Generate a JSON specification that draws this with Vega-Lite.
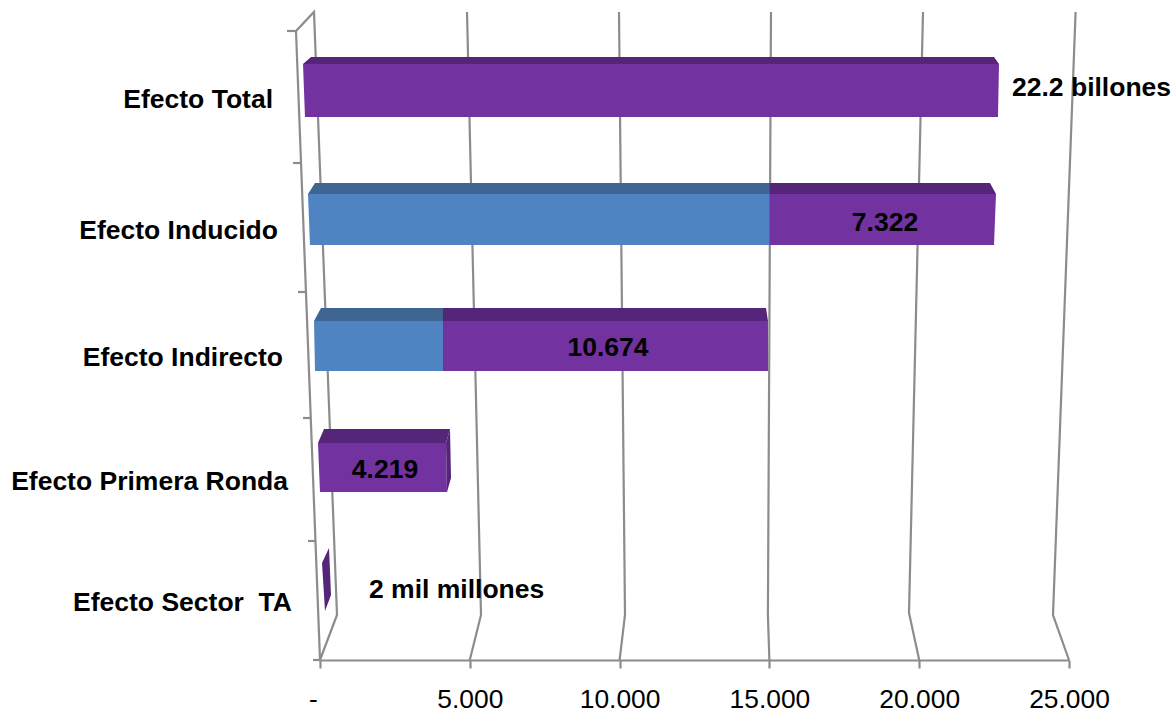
{"$schema":"https://vega.github.io/schema/vega-lite/v6.json","width":749,"height":648,"autosize":"none","padding":{"left":320,"top":12,"right":107,"bottom":53},"background":"white","config":{"view":{"stroke":null}},"datasets":{"trazos":[
{"id":"g0","n":1,"x":0,"y":0},{"id":"g0","n":2,"x":567,"y":45},{"id":"g0","n":3,"x":-200,"y":648},{"id":"g0","n":4,"x":-801,"y":629},
{"id":"g5","n":1,"x":5000,"y":0},{"id":"g5","n":2,"x":5374,"y":45},{"id":"g5","n":3,"x":4907,"y":648},
{"id":"g10","n":1,"x":10000,"y":0},{"id":"g10","n":2,"x":10180,"y":45},{"id":"g10","n":3,"x":9980,"y":648},
{"id":"g15","n":1,"x":15000,"y":0},{"id":"g15","n":2,"x":14950,"y":45},{"id":"g15","n":3,"x":15053,"y":648},
{"id":"g20","n":1,"x":20000,"y":0},{"id":"g20","n":2,"x":19660,"y":47},{"id":"g20","n":3,"x":20127,"y":648},
{"id":"g25","n":1,"x":25000,"y":0},{"id":"g25","n":2,"x":24466,"y":45},{"id":"g25","n":3,"x":25220,"y":648},
{"id":"eje","n":1,"x":0,"y":0},{"id":"eje","n":2,"x":-801,"y":629},
{"id":"t0","n":1,"x":-1101,"y":629},{"id":"t0","n":2,"x":-801,"y":629},
{"id":"t1","n":1,"x":-900,"y":497},{"id":"t1","n":2,"x":-634,"y":497},
{"id":"t2","n":1,"x":-734,"y":368},{"id":"t2","n":2,"x":-467,"y":368},
{"id":"t3","n":1,"x":-567,"y":242},{"id":"t3","n":2,"x":-300,"y":242},
{"id":"t4","n":1,"x":-400,"y":119},{"id":"t4","n":2,"x":-150,"y":119},
{"id":"t5","n":1,"x":-234,"y":0},{"id":"t5","n":2,"x":0,"y":0}
],"caras":[
{"id":"total-sup","cara":"morado superior","y":603,"x":-300,"x2":22497},{"id":"total-sup","cara":"morado superior","y":596,"x":-567,"x2":22664},
{"id":"total-fr","cara":"morado frente","y":596,"x":-567,"x2":22664},{"id":"total-fr","cara":"morado frente","y":543,"x":-501,"x2":22630},
{"id":"ind-az-sup","cara":"azul superior","y":477,"x":-167,"x2":15000},{"id":"ind-az-sup","cara":"azul superior","y":466,"x":-401,"x2":15000},
{"id":"ind-az-fr","cara":"azul frente","y":466,"x":-401,"x2":15000},{"id":"ind-az-fr","cara":"azul frente","y":415,"x":-334,"x2":15000},
{"id":"ind-mo-sup","cara":"morado superior","y":477,"x":15000,"x2":22363},{"id":"ind-mo-sup","cara":"morado superior","y":466,"x":15000,"x2":22563},
{"id":"ind-mo-fr","cara":"morado frente","y":466,"x":15000,"x2":22563},{"id":"ind-mo-fr","cara":"morado frente","y":415,"x":15000,"x2":22497},
{"id":"dir-az-sup","cara":"azul superior","y":352,"x":33,"x2":4105},{"id":"dir-az-sup","cara":"azul superior","y":339,"x":-200,"x2":4105},
{"id":"dir-az-fr","cara":"azul frente","y":339,"x":-200,"x2":4105},{"id":"dir-az-fr","cara":"azul frente","y":289,"x":-167,"x2":4105},
{"id":"dir-mo-sup","cara":"morado superior","y":352,"x":4105,"x2":14887},{"id":"dir-mo-sup","cara":"morado superior","y":339,"x":4105,"x2":14953},
{"id":"dir-mo-fr","cara":"morado frente","y":339,"x":4105,"x2":14953},{"id":"dir-mo-fr","cara":"morado frente","y":289,"x":4105,"x2":14953},
{"id":"pri-sup","cara":"morado superior","y":231,"x":134,"x2":4339},{"id":"pri-sup","cara":"morado superior","y":217,"x":-67,"x2":4206},
{"id":"pri-fr","cara":"morado frente","y":217,"x":-67,"x2":4206},{"id":"pri-fr","cara":"morado frente","y":168,"x":0,"x2":4239},
{"id":"pri-lat","cara":"morado superior","y":231,"x":4339,"x2":4339},{"id":"pri-lat","cara":"morado superior","y":217,"x":4206,"x2":4349},{"id":"pri-lat","cara":"morado superior","y":182,"x":4229,"x2":4373},{"id":"pri-lat","cara":"morado superior","y":168,"x":4239,"x2":4239},
{"id":"sec","cara":"morado superior","y":112,"x":300,"x2":300},{"id":"sec","cara":"morado superior","y":97,"x":67,"x2":323},{"id":"sec","cara":"morado superior","y":65,"x":134,"x2":367},{"id":"sec","cara":"morado superior","y":49,"x":167,"x2":167}
],"categorias":[
{"t":"Efecto Total","x":-1569,"y":560},{"t":"Efecto Inducido","x":-1402,"y":429},{"t":"Efecto Indirecto","x":-1235,"y":302},{"t":"Efecto Primera Ronda","x":-1068,"y":178},{"t":"Efecto Sector\u00a0\u00a0TA","x":-935,"y":57}
],"centrados":[
{"t":"7.322","x":18859,"y":437},{"t":"10.674","x":9613,"y":312},{"t":"4.219","x":2170,"y":190}
],"izquierda":[
{"t":"22.2 billones","x":23098,"y":572},{"t":"2 mil millones","x":1636,"y":70}
]},
"layer":[
{"data":{"name":"trazos"},"mark":{"type":"line","color":"#8c8c8c","strokeWidth":2.2,"clip":false},"encoding":{
"x":{"field":"x","type":"quantitative","scale":{"domain":[0,25000],"nice":false,"zero":false},"axis":{"values":[0,5000,10000,15000,20000,25000],"title":null,"grid":false,"domainColor":"#8c8c8c","domainWidth":2.2,"tickColor":"#8c8c8c","tickWidth":2.2,"tickSize":8,"labelFont":"Liberation Sans","labelFontSize":26.4,"labelColor":"#000000","labelPadding":18,"labelOverlap":false,"labelFlush":false,"labelBound":false,"labelOffset":{"condition":{"test":"datum.value==0","value":-7},"value":0},"labelExpr":"datum.value==0?'-':replace(format(datum.value,','),',','.')"}},
"y":{"field":"y","type":"quantitative","scale":{"domain":[0,648],"nice":false,"zero":false},"axis":null},
"detail":{"field":"id"},"order":{"field":"n","type":"quantitative"}}},
{"data":{"name":"caras"},"mark":{"type":"area","orient":"horizontal","interpolate":"linear"},"encoding":{
"x":{"field":"x","type":"quantitative"},"x2":{"field":"x2"},
"y":{"field":"y","type":"quantitative"},
"detail":{"field":"id"},
"color":{"field":"cara","type":"nominal","legend":null,"scale":{"domain":["morado frente","morado superior","azul frente","azul superior"],"range":["#7232a0","#55257a","#5083c1","#3f6592"]}}}},
{"data":{"name":"categorias"},"mark":{"type":"text","align":"right","baseline":"middle","font":"Liberation Sans","fontSize":26.5,"fontWeight":"bold","color":"#000000"},"encoding":{"x":{"field":"x","type":"quantitative"},"y":{"field":"y","type":"quantitative"},"text":{"field":"t"}}},
{"data":{"name":"centrados"},"mark":{"type":"text","align":"center","baseline":"middle","font":"Liberation Sans","fontSize":26.5,"fontWeight":"bold","color":"#000000"},"encoding":{"x":{"field":"x","type":"quantitative"},"y":{"field":"y","type":"quantitative"},"text":{"field":"t"}}},
{"data":{"name":"izquierda"},"mark":{"type":"text","align":"left","baseline":"middle","font":"Liberation Sans","fontSize":26.5,"fontWeight":"bold","color":"#000000"},"encoding":{"x":{"field":"x","type":"quantitative"},"y":{"field":"y","type":"quantitative"},"text":{"field":"t"}}}
]}
